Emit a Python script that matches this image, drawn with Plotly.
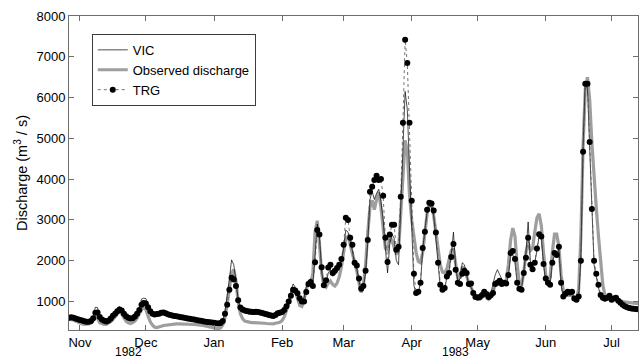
import pandas as pd
import plotly.graph_objects as go

# Daily series, 27 Oct 1982 - 13 Jul 1983 (m3/s)
dates = pd.date_range("1982-10-27", "1983-07-13", freq="D")

vic = [
    590, 600, 590, 570, 550,
    530, 510, 500, 490, 490, 520, 640, 860, 850, 620, 540, 510, 500, 520, 570,
    650, 720, 820, 880, 800, 690, 620, 580, 560, 580, 630, 720, 840, 1060, 1080,
    1070, 880, 740, 680, 655, 655, 665, 685, 695, 680, 660, 645, 635, 625, 615, 605,
    595, 585, 575, 565, 555, 545, 535, 525, 515, 505, 495, 485, 478, 470, 462,
    455, 448, 442, 455, 540, 760, 1100, 1550, 2020, 1900, 1500, 1050, 820, 750, 720, 700,
    690, 690, 690, 700, 690, 680, 660, 650, 635, 620, 610, 600, 620, 660, 680,
    700, 770, 880, 1050, 1250, 1430, 1350, 1150, 1000, 980, 1100, 1350, 1500, 1560,
    1400, 2100, 2900, 2600, 1750, 1350, 1450, 1700, 1780, 1620, 1650, 1720, 1850, 2000,
    2300, 2750, 2700, 2450, 2250, 1900, 1800, 1500, 1280, 1350, 1700, 2450, 3500, 3700, 3500,
    3650, 3750, 3450, 3000, 2300, 1700, 2400, 2650, 2550, 2000, 1900, 3300, 5000, 6150, 5700, 4300,
    2500, 1400, 1150, 1200, 1450, 2250, 2750, 3200, 3350, 3300, 3100, 2500, 1800, 1350, 1250,
    1300, 1600, 1750, 2150, 2700, 1850, 1500, 1550, 1950, 1900, 1650, 1400, 1350, 1200, 1100,
    1080, 1080, 1130, 1220, 1150, 1100, 1200, 1450, 1650, 1780, 1650, 1550, 1500, 1450, 1600,
    2100, 2150, 1950, 1450, 1300, 1300, 1750, 2200, 2950, 2000, 1800, 1950, 2250, 2600, 2550, 1900,
    1500, 1420, 1400, 1950, 2150, 2100, 2300, 1400, 1100, 1170, 1220, 1200, 1220, 1050, 1030,
    1100, 2050, 4800, 6400, 6200, 4800, 3100, 1900, 1600, 1350, 1100, 1020, 1000, 1040, 1100,
    1010, 1040, 1060, 1000, 950, 900, 860, 840, 820, 810, 810, 805, 800,
]

observed = [
    560, 560, 545, 520, 490,
    465, 450, 440, 440, 450, 470, 530, 620, 580, 480, 450, 440, 440, 460, 500,
    560, 620, 700, 760, 690, 590, 510, 475, 460, 480, 520, 590, 690, 800, 850,
    800, 640, 500, 420, 370, 360, 370, 390, 410, 420, 430, 440, 445, 450, 450, 450,
    450, 445, 445, 440, 440, 440, 435, 430, 430, 420, 410, 400, 390, 380, 370,
    360, 340, 330, 350, 420, 600, 900, 1300, 1700, 1780, 1500, 1000, 700, 580, 520, 500,
    490, 480, 480, 480, 475, 470, 470, 465, 460, 455, 450, 450, 465, 480, 490,
    530, 620, 780, 960, 1150, 1300, 1260, 1060, 900, 880, 1030, 1300, 1450, 1400,
    1700, 2700, 2980, 2400, 1700, 1400, 1350, 1450, 1500, 1420, 1380, 1450, 1600, 1850,
    2200, 2550, 2600, 2400, 2150, 1950, 1750, 1450, 1220, 1400, 1900, 2700, 3300, 3480, 3250,
    3500, 3680, 3300, 2750, 2300, 2250, 2600, 2500, 2350, 2150, 2250, 3200, 4300, 4950, 4700, 3600,
    3000, 2550, 2200, 1980, 1950, 2200, 2700, 3150, 3400, 3380, 3100, 2700, 2250, 1900, 1720,
    1700, 1800, 2000, 2250, 2300, 1900, 1550, 1600, 1850, 1800, 1600, 1450, 1350, 1200, 1100,
    1050, 1050, 1100, 1150, 1100, 1050, 1100, 1250, 1400, 1450, 1450, 1420, 1450, 1500, 1900,
    2500, 2800, 2600, 1900, 1450, 1400, 1700, 2200, 2450, 2250, 2300, 2700, 3050, 3150, 2850, 2200,
    1650, 1480, 1600, 2200, 2650, 2650, 2350, 1650, 1250, 1150, 1150, 1150, 1150, 1100, 1080,
    1300, 2600, 4800, 6200, 6500, 5950, 4900, 4000, 3300, 2600, 1900, 1400, 1150, 1100, 1100,
    1100, 1080, 1080, 1050, 1020, 1000, 990, 980, 970, 960, 950, 950, 950,
]

trg = [
    600, 610, 600, 585, 565,
    545, 530, 515, 505, 500, 520, 590, 720, 730, 620, 560, 525, 510, 530, 580,
    650, 700, 760, 800, 780, 700, 640, 600, 580, 590, 630, 700, 790, 920, 960,
    950, 860, 760, 700, 680, 690, 700, 720, 730, 710, 685, 665, 655, 645, 635, 625,
    615, 605, 595, 585, 575, 565, 555, 545, 535, 525, 515, 505, 498, 490, 482,
    475, 468, 462, 470, 520, 700, 920, 1290, 1580, 1540, 1380, 1030, 850, 800, 780, 765,
    755, 745, 740, 745, 740, 730, 715, 700, 685, 670, 655, 645, 670, 710, 725,
    740, 790, 880, 1000, 1140, 1290, 1270, 1200, 1080, 1000, 1000, 1230, 1430, 1480,
    1380, 1960, 2750, 2640, 1840, 1400, 1520, 1830, 1900, 1700, 1750, 1820, 1900, 2040,
    2390, 3050, 3000, 2560, 2390, 1950, 1880, 1560, 1310, 1380, 1750, 2510, 3690, 3810, 3980,
    4080, 3980, 4000, 3590, 2560, 1970, 2640, 2880, 2880, 2270, 2340, 3570, 5380, 7420, 6850, 5380,
    3470, 1680, 1210, 1240, 1460, 2310, 2710, 3250, 3420, 3400, 3230, 2690, 1950, 1410, 1290,
    1330, 1610, 1700, 2090, 2410, 1780, 1460, 1430, 1680, 1750, 1700, 1430, 1440, 1210, 1110,
    1100, 1110, 1160, 1240, 1180, 1110, 1150, 1210, 1430, 1460, 1510, 1430, 1460, 1440, 1650,
    2190, 2240, 2040, 1460, 1310, 1290, 1700, 2070, 2560, 1900, 1790, 1950, 2300, 2650, 2590, 1920,
    1560, 1460, 1410, 1950, 2190, 2140, 2340, 1460, 1120, 1190, 1240, 1220, 1240, 1070, 1040,
    1120, 2000, 4670, 6340, 6340, 4910, 3270, 2000, 1680, 1410, 1160, 1090, 1070, 1090, 1140,
    1040, 1070, 1090, 1020, 970, 920, 880, 860, 840, 825, 820, 815, 810,
]

month_ticks = ["1982-11-01", "1982-12-01", "1983-01-01", "1983-02-01", "1983-03-01",
               "1983-04-01", "1983-05-01", "1983-06-01", "1983-07-01"]
month_labels = ["Nov", "Dec", "Jan", "Feb", "Mar", "Apr", "May", "Jun", "Jul"]
y_ticks = [1000, 2000, 3000, 4000, 5000, 6000, 7000, 8000]
year_labels = ["1982", "1983"]

FONT = "Liberation Sans, Arial, Helvetica, sans-serif"
AXIS_GREY = "rgb(110,110,110)"

fig = go.Figure()
fig.add_trace(go.Scatter(
    x=dates, y=observed, name="Observed discharge", mode="lines",
    line=dict(color="rgb(158,158,158)", width=3.2), legendrank=2,
))
fig.add_trace(go.Scatter(
    x=dates, y=vic, name="VIC", mode="lines",
    line=dict(color="black", width=0.7), legendrank=1,
))
fig.add_trace(go.Scatter(
    x=dates, y=trg, name="TRG", mode="lines+markers",
    line=dict(color="rgb(80,80,80)", width=0.8, dash="dot"),
    marker=dict(size=6, color="black"), legendrank=3,
))

fig.update_layout(
    width=643, height=360,
    margin=dict(l=69, r=5, t=16, b=30),
    paper_bgcolor="white", plot_bgcolor="white",
    font=dict(family=FONT, size=13, color="black"),
    showlegend=True,
    legend=dict(
        x=0.04, y=0.943, xanchor="left", yanchor="top",
        bgcolor="white", bordercolor="rgb(60,60,60)", borderwidth=1,
        font=dict(size=13), itemwidth=30, tracegroupgap=0,
    ),
)

fig.update_xaxes(
    range=["1982-10-27", "1983-07-13"],
    tickmode="array", tickvals=month_ticks, ticktext=month_labels,
    ticks="inside", ticklen=5, tickcolor=AXIS_GREY, tickwidth=1,
    showline=True, linecolor=AXIS_GREY, linewidth=1, mirror="ticks",
    showgrid=False, zeroline=False,
    tickfont=dict(size=13, color="black"),
)
fig.update_yaxes(
    range=[300, 8000],
    tickmode="array", tickvals=y_ticks,
    ticks="inside", ticklen=5, tickcolor=AXIS_GREY, tickwidth=1,
    showline=True, linecolor=AXIS_GREY, linewidth=1, mirror="ticks",
    showgrid=False, zeroline=False,
    tickfont=dict(size=13, color="black"),
    title=dict(text="Discharge (m<sup>3</sup> / s)", font=dict(size=14.5), standoff=5),
)

# year captions under the month labels
for label, xpos in zip(year_labels, [0.105, 0.679]):
    fig.add_annotation(
        text=label, xref="paper", yref="paper", x=xpos, y=-0.071,
        xanchor="center", yanchor="middle", showarrow=False,
        font=dict(size=12, color="black"), borderpad=0,
    )

fig.write_html("out.html")
